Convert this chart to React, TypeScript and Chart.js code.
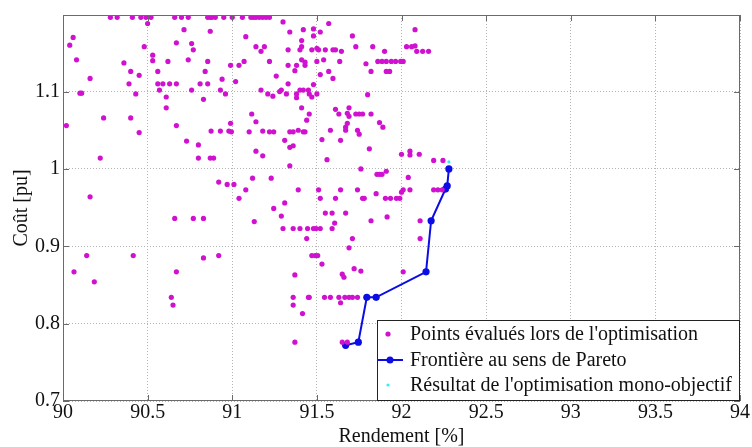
import React, { useEffect, useRef } from 'react';
import { Chart, registerables } from 'chart.js';

Chart.register(...registerables);

const FONT = '"Liberation Serif", "Times New Roman", serif';

// Points évalués lors de l'optimisation
const evalX = [
  90.28, 90.32, 90.41, 90.46, 90.49, 90.52, 90.66, 90.70, 90.74, 90.50,
  90.715, 90.06, 90.04, 90.48, 90.67, 90.76, 90.77, 90.53, 90.53, 90.08,
  90.36, 90.62, 90.74, 90.40, 90.56, 90.45, 90.16, 90.39, 90.56, 90.59,
  90.63, 90.67, 90.10, 90.11, 90.43, 90.57, 90.76, 90.61, 90.61, 90.24,
  90.40, 90.02, 90.67, 90.45, 90.73, 90.22,
  90.855, 90.87, 90.88, 90.90, 90.95, 91.0, 91.06, 91.11, 91.125, 91.14, 91.16, 91.18, 91.20, 91.22,
  91.30, 90.87, 91.08, 91.34, 91.42, 91.48, 91.48, 91.52, 91.57, 91.41,
  91.14, 91.19, 91.17, 91.33, 91.40, 91.41, 91.47, 91.50, 91.51, 91.55,
  90.855, 90.99, 91.04, 91.07, 91.22, 91.33, 91.38, 91.41, 91.43, 91.43,
  91.50, 91.54, 90.84, 91.37, 91.52, 91.57, 90.94, 91.02, 91.26, 90.81,
  90.855, 91.33, 91.48, 90.93, 90.96, 91.17, 91.21, 91.24, 91.28, 91.29,
  91.32, 91.38, 91.38, 91.40, 91.42, 91.45, 91.455, 91.47, 91.50, 90.83,
  91.41, 91.115, 91.455, 91.14, 91.44, 90.875, 90.93, 90.98, 90.995, 90.99,
  91.10, 91.18, 91.22, 91.245, 91.34, 91.36, 91.39, 91.42, 91.43, 91.58,
  91.31, 90.80, 91.34, 91.36, 91.53, 91.14, 91.18, 90.80, 90.87, 90.89, 91.56, 91.34, 91.12, 91.23,
  92.08, 91.71, 91.73, 91.83, 91.595, 91.61, 91.645, 91.90, 92.03, 92.06,
  92.08, 92.09, 92.125, 92.16, 91.635, 91.79, 91.86, 91.885, 91.91, 91.94,
  91.965, 91.995, 92.01, 91.82, 91.91, 91.93, 91.595, 91.80, 91.61, 91.69,
  91.63, 91.68, 91.69, 91.73, 91.75, 91.77, 91.82, 91.87, 91.89, 91.68,
  91.67, 91.67, 91.74, 91.75, 91.64, 91.81, 92.00, 92.05, 92.05, 92.105,
  92.19, 92.245, 91.76, 91.855, 91.87, 91.885, 91.91, 92.04,
  90.16, 90.66, 90.77, 90.83, 91.13, 90.14, 90.415, 90.065, 90.67, 90.185,
  90.64, 90.65, 90.83, 90.92, 90.92, 90.97, 91.01, 91.08, 91.04, 91.39,
  91.51, 91.52, 91.31, 91.245, 91.29, 91.55, 91.59, 91.30, 91.36, 91.40,
  91.445, 91.48, 91.495, 91.52, 91.59, 91.44, 91.47, 91.49, 91.505, 91.53,
  91.37, 91.36, 91.45, 91.455, 91.545, 91.58, 91.36, 91.415, 91.37, 91.64,
  91.74, 91.77, 91.78, 91.85, 91.905, 91.935, 91.97, 91.99, 92.0, 92.01,
  92.05, 92.19, 92.215, 92.24, 91.61, 91.67, 91.605, 91.82, 91.915, 92.11,
  92.11, 91.71, 91.69, 91.72, 91.76, 91.65, 91.66, 92.01, 91.63, 91.665,
  91.69, 91.71, 91.74, 91.64, 91.65, 91.68,
];
const evalY = [
  1.196, 1.196, 1.196, 1.196, 1.196, 1.196, 1.196, 1.196, 1.196, 1.188,
  1.180, 1.170, 1.160, 1.158, 1.163, 1.162, 1.154, 1.147, 1.140, 1.141,
  1.137, 1.139, 1.141, 1.126, 1.126, 1.121, 1.117, 1.110, 1.110, 1.110,
  1.110, 1.110, 1.098, 1.098, 1.097, 1.102, 1.102, 1.093, 1.079, 1.066,
  1.066, 1.056, 1.056, 1.047, 1.036, 1.014,
  1.196, 1.196, 1.196, 1.196, 1.196, 1.196, 1.196, 1.196, 1.196, 1.196, 1.196, 1.196, 1.196, 1.196,
  1.190, 1.178, 1.171, 1.177, 1.180, 1.181, 1.172, 1.177, 1.188, 1.166,
  1.158, 1.158, 1.152, 1.154, 1.154, 1.158, 1.154, 1.156, 1.154, 1.154,
  1.139, 1.134, 1.134, 1.139, 1.139, 1.134, 1.134, 1.141, 1.138, 1.134,
  1.139, 1.141, 1.126, 1.127, 1.122, 1.126, 1.116, 1.113, 1.120, 1.110,
  1.110, 1.110, 1.109, 1.102, 1.097, 1.102, 1.097, 1.094, 1.100, 1.102,
  1.097, 1.097, 1.092, 1.102, 1.102, 1.102, 1.097, 1.093, 1.097, 1.090,
  1.079, 1.071, 1.071, 1.061, 1.063, 1.049, 1.049, 1.049, 1.048, 1.059,
  1.048, 1.049, 1.048, 1.048, 1.048, 1.048, 1.050, 1.048, 1.048, 1.050,
  1.037, 1.031, 1.028, 1.030, 1.038, 1.023, 1.017, 1.014, 1.014, 1.014, 1.012, 1.004, 0.988, 0.988,
  1.180, 1.172, 1.158, 1.158, 1.154, 1.154, 1.152, 1.152, 1.158, 1.158,
  1.159, 1.152, 1.152, 1.152, 1.139, 1.136, 1.139, 1.139, 1.139, 1.139,
  1.139, 1.139, 1.139, 1.126, 1.126, 1.126, 1.117, 1.096, 1.077, 1.079,
  1.071, 1.072, 1.068, 1.071, 1.071, 1.071, 1.071, 1.060, 1.054, 1.059,
  1.054, 1.050, 1.050, 1.045, 1.037, 1.026, 1.019, 1.023, 1.018, 1.019,
  1.011, 1.011, 1.000, 0.993, 0.993, 0.993, 0.997, 0.989,
  0.964, 0.936, 0.936, 0.936, 0.932, 0.888, 0.888, 0.867, 0.867, 0.854,
  0.834, 0.824, 0.885, 0.888, 0.983, 0.980, 0.980, 0.973, 0.962, 0.973,
  0.973, 0.962, 0.956, 0.949, 0.939, 0.943, 0.943, 0.923, 0.923, 0.923,
  0.923, 0.923, 0.923, 0.923, 0.923, 0.910, 0.888, 0.888, 0.888, 0.877,
  0.863, 0.834, 0.834, 0.834, 0.834, 0.834, 0.824, 0.813, 0.776, 0.973,
  0.973, 0.962, 0.962, 0.968, 0.962, 0.962, 0.962, 0.962, 0.970, 0.973,
  0.973, 0.973, 0.973, 0.973, 0.962, 0.943, 0.930, 0.933, 0.938, 0.933,
  0.910, 0.910, 0.898, 0.871, 0.868, 0.864, 0.860, 0.867, 0.834, 0.834,
  0.834, 0.834, 0.834, 0.827, 0.776, 0.776,
];

// Frontière au sens de Pareto
const paretoX = [91.67, 91.745, 91.795, 91.85, 92.145, 92.175, 92.26, 92.27, 92.28];
const paretoY = [0.772, 0.776, 0.834, 0.834, 0.867, 0.933, 0.974, 0.978, 1.0];

// Résultat de l'optimisation mono-objectif
const monoX = [92.28];
const monoY = [1.009];

const xTicks = [90, 90.5, 91, 91.5, 92, 92.5, 93, 93.5, 94];
const yTicks = [0.7, 0.8, 0.9, 1, 1.1];

const legendLabels = [
  "Points évalués lors de l'optimisation",
  'Frontière au sens de Pareto',
  "Résultat de l'optimisation mono-objectif",
];
const xTitle = 'Rendement [%]';
const yTitle = 'Coût [pu]';

const MAGENTA = '#d012d0';
const BLUE = '#0c0ce6';
const CYAN = '#33f0f0';

export default function App() {
  const ref = useRef<HTMLCanvasElement>(null);

  useEffect(() => {
    const canvas = ref.current;
    if (!canvas) return;

    const framePlugin = {
      id: 'matlabFrame',
      afterDatasetsDraw(chart: any) {
        const { ctx, chartArea: a, scales } = chart;
        ctx.save();
        // box
        ctx.strokeStyle = '#6a6a6a';
        ctx.lineWidth = 1;
        ctx.strokeRect(a.left + 0.5, a.top + 0.5, a.right - a.left - 1, a.bottom - a.top - 1);
        // inward ticks
        ctx.beginPath();
        xTicks.forEach((v) => {
          const px = Math.round(scales.x.getPixelForValue(v)) + 0.5;
          ctx.moveTo(px, a.bottom);
          ctx.lineTo(px, a.bottom - 6);
          ctx.moveTo(px, a.top);
          ctx.lineTo(px, a.top + 6);
        });
        yTicks.forEach((v) => {
          const py = Math.round(scales.y.getPixelForValue(v)) + 0.5;
          ctx.moveTo(a.left, py);
          ctx.lineTo(a.left + 6, py);
          ctx.moveTo(a.right, py);
          ctx.lineTo(a.right - 6, py);
        });
        ctx.stroke();

        // legend box
        const bw = 363;
        const bh = 80;
        const bx = a.right - bw;
        const by = a.bottom - bh - 1;
        ctx.fillStyle = '#ffffff';
        ctx.fillRect(bx, by, bw, bh);
        ctx.strokeStyle = '#222';
        ctx.strokeRect(bx + 0.5, by + 0.5, bw - 1, bh);
        const rows = [by + 14, by + 40, by + 65];
        // magenta dot
        ctx.fillStyle = MAGENTA;
        ctx.beginPath();
        ctx.arc(bx + 11, rows[0], 2.6, 0, Math.PI * 2);
        ctx.fill();
        // blue line + marker
        ctx.strokeStyle = BLUE;
        ctx.lineWidth = 2;
        ctx.beginPath();
        ctx.moveTo(bx, rows[1]);
        ctx.lineTo(bx + 26, rows[1]);
        ctx.stroke();
        ctx.fillStyle = BLUE;
        ctx.beginPath();
        ctx.arc(bx + 13, rows[1], 3.5, 0, Math.PI * 2);
        ctx.fill();
        // cyan dot
        ctx.fillStyle = CYAN;
        ctx.beginPath();
        ctx.arc(bx + 11, rows[2], 1.6, 0, Math.PI * 2);
        ctx.fill();
        // texts
        ctx.fillStyle = '#111';
        ctx.font = `20px ${FONT}`;
        ctx.textBaseline = 'middle';
        ctx.textAlign = 'left';
        legendLabels.forEach((t, i) => ctx.fillText(t, bx + 33, rows[i] + 1));
        ctx.restore();
      },
    };

    const chart = new Chart(canvas, {
      type: 'scatter',
      data: {
        datasets: [
          {
            label: legendLabels[0],
            data: evalX.map((x, i) => ({ x, y: evalY[i] })),
            backgroundColor: MAGENTA,
            borderWidth: 0,
            pointRadius: 2.6,
            pointHoverRadius: 2.6,
          },
          {
            label: legendLabels[1],
            data: paretoX.map((x, i) => ({ x, y: paretoY[i] })),
            showLine: true,
            borderColor: BLUE,
            borderWidth: 2,
            backgroundColor: BLUE,
            pointBackgroundColor: BLUE,
            pointBorderWidth: 0,
            pointRadius: 3.6,
          },
          {
            label: legendLabels[2],
            data: monoX.map((x, i) => ({ x, y: monoY[i] })),
            backgroundColor: CYAN,
            borderWidth: 0,
            pointRadius: 1.6,
          },
        ],
      },
      options: {
        responsive: false,
        animation: false,
        events: [],
        layout: { padding: { left: 0, top: 10, right: 12, bottom: 0 } },
        plugins: {
          legend: { display: false },
          tooltip: { enabled: false },
        },
        scales: {
          x: {
            type: 'linear',
            min: 90,
            max: 94,
            afterBuildTicks: (s: any) => {
              s.ticks = xTicks.map((v) => ({ value: v }));
            },
            afterFit: (s: any) => {
              s.height = 46;
            },
            ticks: {
              padding: 0,
              color: '#111',
              font: { family: FONT, size: 20 },
              maxRotation: 0,
              autoSkip: false,
              callback: (v: any) => String(v),
            },
            grid: { color: '#b4b4b4', drawTicks: false, lineWidth: 1 },
            border: { display: false, dash: [1, 2] },
            title: {
              display: true,
              text: xTitle,
              color: '#111',
              font: { family: FONT, size: 20, lineHeight: 1 },
              padding: { top: 0, bottom: 0 },
            },
          },
          y: {
            type: 'linear',
            min: 0.7,
            max: 1.199,
            afterBuildTicks: (s: any) => {
              s.ticks = yTicks.map((v) => ({ value: v }));
            },
            afterFit: (s: any) => {
              s.width = 63;
            },
            ticks: {
              padding: 3,
              color: '#111',
              font: { family: FONT, size: 20 },
              autoSkip: false,
              callback: (v: any) => String(v),
            },
            grid: { color: '#b4b4b4', drawTicks: false, lineWidth: 1 },
            border: { display: false, dash: [1, 2] },
            title: {
              display: true,
              text: yTitle,
              color: '#111',
              font: { family: FONT, size: 20, lineHeight: 1 },
              padding: { top: 12, bottom: 0 },
            },
          },
        },
      },
      plugins: [framePlugin],
    } as any);

    return () => chart.destroy();
  }, []);

  return (
    <div style={{ position: 'fixed', left: 0, top: 0, width: 752, height: 447, background: '#fff' }}>
      <canvas ref={ref} width={752} height={447} style={{ display: 'block', width: 752, height: 447 }} />
    </div>
  );
}
